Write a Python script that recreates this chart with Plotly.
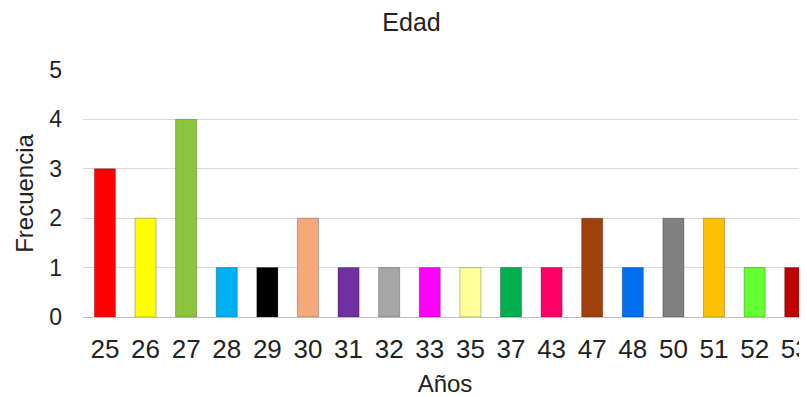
import plotly.graph_objects as go

edades = ["25", "26", "27", "28", "29", "30", "31", "32", "33",
          "35", "37", "43", "47", "48", "50", "51", "52", "53"]
frecuencia = [3, 2, 4, 1, 1, 2, 1, 1, 1, 1, 1, 1, 2, 1, 2, 2, 1, 1]
colores = ["#FF0000", "#FFFF00", "#8CC43C", "#00B0F0", "#000000", "#F5A97A",
           "#7030A0", "#A6A6A6", "#FF00FF", "#FFFF99", "#00B050", "#FF0066",
           "#A0400A", "#0070F0", "#808080", "#FFC000", "#66FF33", "#C00000"]

font = "Liberation Sans, Arial, sans-serif"

fig = go.Figure()
fig.add_trace(
    go.Bar(
        x=edades,
        y=frecuencia,
        marker=dict(color=colores, line=dict(color="rgba(0,0,0,0.25)", width=1)),
        width=0.52,
    )
)

# the page adds an 8px body margin, so the figure is shifted by 8px
H = 389
fig.update_layout(
    width=799,
    height=H,
    margin=dict(l=75, r=0, t=62, b=80),
    paper_bgcolor="white",
    plot_bgcolor="white",
    showlegend=False,
    title=dict(text="Edad", x=0.505, xanchor="center", yref="container",
               y=1 - 14 / H, yanchor="middle",
               font=dict(family=font, size=25, color="#222")),
    font=dict(family=font, color="#222"),
)

fig.update_xaxes(
    type="category",
    range=[-0.54, 17.29],
    showgrid=False,
    showline=True,
    linecolor="#BFBFBF",
    linewidth=1,
    ticks="",
    tickfont=dict(size=26, color="#222"),
    ticklabelstandoff=9,
    automargin=False,
    title=dict(text="Años", font=dict(size=24, color="#222"), standoff=11),
)
fig.update_yaxes(
    range=[0, 5],
    dtick=1,
    showgrid=True,
    gridcolor="#D9D9D9",
    zeroline=False,
    ticks="",
    tickfont=dict(size=23, color="#222"),
    ticklabelstandoff=20,
    automargin=False,
    title=dict(text="Frecuencia", font=dict(size=24, color="#222"), standoff=8),
)

fig.write_html("out.html")
